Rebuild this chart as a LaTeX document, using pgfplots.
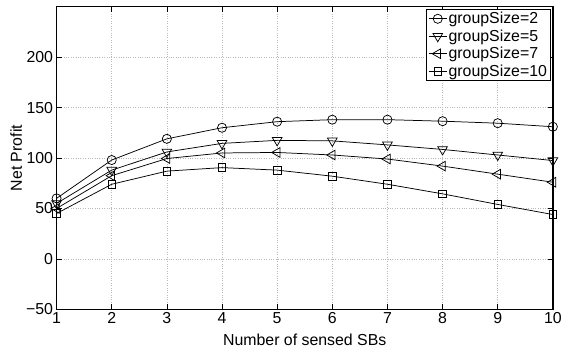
\documentclass[border=0pt]{standalone}
\usepackage{fontspec}
\setmainfont{Liberation Sans}
\usepackage{pgfplots}
\pgfplotsset{compat=1.18}
\begin{document}
\begin{tikzpicture}
\begin{axis}[
  name=ax,
  scale only axis,
  width=500pt, height=305pt,
  xmin=1, xmax=10, ymin=-50, ymax=250,
  xtick={1,...,10},
  ytick={-50,0,50,100,150,200},
  yticklabels={−50,0,50,100,150,200},
  tick align=inside,
  xtick pos=both, ytick pos=both,
  xticklabel pos=bottom, yticklabel pos=left,
  major tick length=5pt,
  grid=major,
  major grid style={dotted, gray!55, line width=0.5pt},
  axis line style={line width=1.3pt},
  every tick/.style={black, line width=0.6pt},
  tick label style={font=\fontsize{16}{19}\selectfont},
  /pgf/number format/assume math mode=true,
  label style={font=\fontsize{16}{19}\selectfont},
  xlabel={Number of sensed SBs},
  ylabel={Net Profit},
  xlabel style={at={(axis description cs:0.5,-0.118)}, anchor=base},
  ylabel style={at={(axis description cs:-0.07,0.5)}, anchor=base},
  clip=false,
  legend style={at={(axis description cs:0.996,0.9925)}, anchor=north east,
    draw=black, line width=0.8pt, fill=white, font=\fontsize{16}{19}\selectfont,
    inner xsep=2pt, inner ysep=1.5pt, row sep=1.5pt,
    nodes={inner sep=1.5pt}},
  legend cell align=left,
  legend image code/.code={
    \draw[mark repeat=2, mark phase=2, #1] plot coordinates {(0pt,0pt) (9pt,0pt) (18pt,0pt)};
  },
]
\addplot[black, line width=0.75pt, mark=o, mark size=4.6pt, mark options={fill=white, solid, line width=0.75pt}] coordinates {
(1,60) (2,98) (3,119) (4,130) (5,136) (6,138) (7,138) (8,136.5) (9,134.5) (10,131)
};
\addlegendentry{groupSize=2}
\addplot[black, line width=0.75pt, mark=triangle, mark size=5.6pt, mark options={rotate=180, fill=white, solid, line width=0.75pt}] coordinates {
(1,55) (2,88) (3,106) (4,114.5) (5,117.5) (6,117) (7,113) (8,108.5) (9,103) (10,97.5)
};
\addlegendentry{groupSize=5}
\addplot[black, line width=0.75pt, mark=triangle, mark size=5.6pt, mark options={rotate=90, fill=white, solid, line width=0.75pt}] coordinates {
(1,50) (2,82.5) (3,99.5) (4,105) (5,105.5) (6,103) (7,99) (8,92) (9,84) (10,76)
};
\addlegendentry{groupSize=7}
\addplot[black, line width=0.75pt, mark=square, mark size=3.8pt, mark options={fill=white, solid, line width=0.75pt}] coordinates {
(1,45) (2,74) (3,87) (4,90.5) (5,88) (6,82) (7,74) (8,64.5) (9,54) (10,44)
};
\addlegendentry{groupSize=10}
\end{axis}
\path (ax.south west) ++(-57pt,-41pt) (ax.north east) ++(8pt,6.7pt);
\end{tikzpicture}
\end{document}
